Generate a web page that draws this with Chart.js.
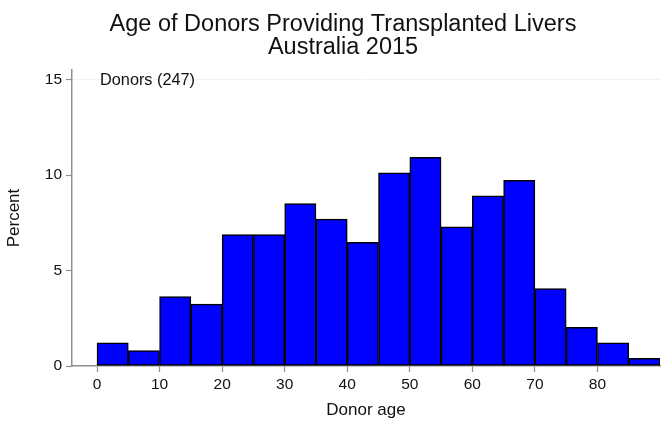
<!DOCTYPE html>
<html>
<head>
<meta charset="utf-8">
<script src="https://cdn.jsdelivr.net/npm/chart.js@4.4.1/dist/chart.umd.min.js"></script>
<style>
  html, body { margin: 0; padding: 0; background: #ffffff; }
  canvas { display: block; }
</style>
</head>
<body>
<canvas id="c" width="661" height="423"></canvas>
<script>
// ---- data ----
const titleLines = ["Age of Donors Providing Transplanted Livers", "Australia 2015"];
const binStarts = [0, 5, 10, 15, 20, 25, 30, 35, 40, 45, 50, 55, 60, 65, 70, 75, 80, 85];
const binWidth = 5;
const percentValues = [1.21, 0.81, 3.64, 3.24, 6.88, 6.88, 8.50, 7.69, 6.48, 10.12, 10.93, 7.29, 8.91, 9.72, 4.05, 2.02, 1.21, 0.40];
const xTickValues = [0, 10, 20, 30, 40, 50, 60, 70, 80];
const yTickValues = [0, 5, 10, 15];
const seriesLabel = "Donors (247)";
const xTitle = "Donor age";
const yTitle = "Percent";

const FONT = "'Liberation Sans', Arial, Helvetica, sans-serif";
const AXIS_GRAY = '#8e8e8e';
const TEXT = '#111111';

const points = binStarts.map((s, i) => ({ x: s + binWidth / 2, y: percentValues[i] }));

const titlePlugin = {
  id: 'stataTitle',
  afterDraw(chart) {
    const ctx = chart.ctx;
    ctx.save();
    ctx.fillStyle = TEXT;
    ctx.font = '23.5px ' + FONT;
    ctx.textAlign = 'center';
    ctx.textBaseline = 'alphabetic';
    ctx.fillText(titleLines[0], 343, 31);
    ctx.fillText(titleLines[1], 343, 54);
    // series label inside the plot region
    const xs = chart.scales.x, ys = chart.scales.y;
    ctx.font = '16.3px ' + FONT;
    ctx.textAlign = 'left';
    ctx.textBaseline = 'middle';
    ctx.fillText(seriesLabel, xs.getPixelForValue(0) + 3, ys.getPixelForValue(15) + 1);
    ctx.restore();
  }
};

new Chart(document.getElementById('c'), {
  type: 'bar',
  data: {
    datasets: [{
      label: seriesLabel,
      data: points,
      backgroundColor: '#0000ff',
      borderColor: '#000000',
      borderWidth: 1.5,
      borderSkipped: false,
      barPercentage: 1.0,
      categoryPercentage: 1.0
    }]
  },
  options: {
    responsive: false,
    animation: false,
    devicePixelRatio: 1,
    layout: { padding: { top: 70, right: 1, left: 0, bottom: 0 } },
    plugins: {
      legend: { display: false },
      tooltip: { enabled: false },
      title: { display: false }
    },
    scales: {
      x: {
        type: 'linear',
        min: -4,
        max: 90,
        offset: false,
        afterBuildTicks(scale) { scale.ticks = xTickValues.map(v => ({ value: v })); },
        afterFit(scale) { scale.height = 57; },
        grid: {
          offset: false,
          drawOnChartArea: false,
          drawTicks: true,
          tickLength: 6,
          tickColor: AXIS_GRAY,
          tickWidth: 1.2,
          color: 'rgba(0,0,0,0)'
        },
        border: { display: true, color: AXIS_GRAY, width: 1.5 },
        ticks: {
          color: TEXT,
          font: { family: FONT, size: 15.5 },
          padding: 3,
          maxRotation: 0,
          autoSkip: false
        },
        title: {
          display: true,
          text: xTitle,
          color: TEXT,
          font: { family: FONT, size: 17 },
          padding: { top: 0, bottom: 2 }
        }
      },
      y: {
        type: 'linear',
        min: 0,
        max: 15.5,
        afterBuildTicks(scale) { scale.ticks = yTickValues.map(v => ({ value: v })); },
        afterFit(scale) { scale.width = 72; },
        grid: {
          drawOnChartArea: true,
          drawTicks: true,
          tickLength: 6,
          tickColor: AXIS_GRAY,
          tickWidth: 1.2,
          color: (ctx) => (ctx.tick && ctx.tick.value === 15) ? '#eef3f3' : 'rgba(0,0,0,0)',
          lineWidth: 1
        },
        border: { display: true, color: AXIS_GRAY, width: 1.5 },
        ticks: {
          color: TEXT,
          font: { family: FONT, size: 15.5 },
          padding: 4,
          autoSkip: false
        },
        title: {
          display: true,
          text: yTitle,
          color: TEXT,
          font: { family: FONT, size: 17 },
          padding: { top: 4.5, bottom: 0 }
        }
      }
    }
  },
  plugins: [titlePlugin]
});
</script>
</body>
</html>
